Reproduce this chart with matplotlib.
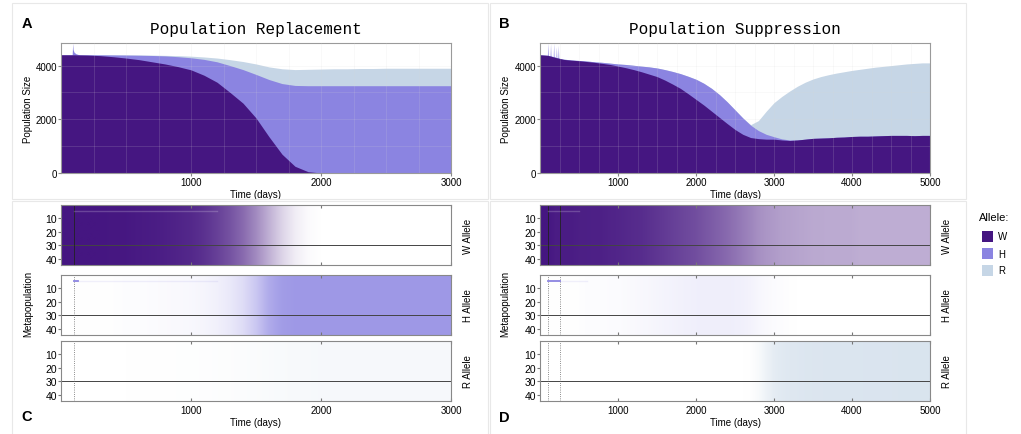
import numpy as np
import matplotlib
matplotlib.use("Agg")
import matplotlib.pyplot as plt
from matplotlib.colors import LinearSegmentedColormap
from matplotlib.patches import Rectangle

plt.rcParams['font.family'] = ['Liberation Sans', 'DejaVu Sans']

# colours of the three alleles
col_W = '#451681'
col_H = '#8b84e1'
col_R = '#c6d6e6'

# ---- panel A : population replacement (every 100 days, 0..3000)
days_A = np.arange(0, 3001, 100)
W_A = [4400, 4400, 4390, 4370, 4330, 4280, 4220, 4140, 4060, 3960, 3840,
       3640, 3380, 3000, 2600, 2050, 1350, 700, 250, 50, 0,
       0, 0, 0, 0, 0, 0, 0, 0, 0, 0]
WH_A = [4400, 4400, 4400, 4400, 4395, 4390, 4385, 4375, 4360, 4330, 4290,
        4230, 4140, 4000, 3850, 3670, 3480, 3330, 3260, 3250, 3250,
        3250, 3250, 3250, 3250, 3250, 3250, 3250, 3250, 3250, 3250]
tot_A = [4400, 4400, 4400, 4400, 4400, 4400, 4395, 4390, 4380, 4370, 4350,
         4320, 4280, 4220, 4150, 4060, 3950, 3880, 3850, 3860, 3870,
         3880, 3880, 3890, 3890, 3900, 3900, 3900, 3900, 3900, 3900]
spike_days_A = [86, 90, 93, 100, 115, 140]
spike_vals_A = [4400, 4840, 4600, 4500, 4440, 4400]

# ---- panel B : population suppression (every 100 days, 0..5000)
days_B = np.arange(0, 5001, 100)
W_B = [4400, 4380, 4300, 4230, 4200, 4180, 4150, 4120, 4080, 4040, 3980,
       3920, 3850, 3770, 3680, 3590, 3460, 3310, 3150, 2950, 2740,
       2530, 2300, 2070, 1840, 1620, 1440, 1320, 1280, 1260, 1260,
       1230, 1210, 1230, 1260, 1290, 1300, 1310, 1330, 1340, 1360,
       1370, 1370, 1380, 1390, 1400, 1400, 1400, 1390, 1400, 1400]
WH_B = [4400, 4380, 4300, 4240, 4210, 4190, 4170, 4140, 4120, 4090, 4060,
        4040, 4010, 3980, 3950, 3910, 3850, 3780, 3700, 3600, 3490,
        3340, 3150, 2920, 2650, 2350, 2050, 1780, 1580, 1440, 1350,
        1270, 1230, 1230, 1260, 1290, 1300, 1310, 1330, 1340, 1360,
        1370, 1370, 1380, 1390, 1400, 1400, 1400, 1390, 1400, 1400]
tot_B = [4400, 4380, 4300, 4240, 4210, 4190, 4170, 4140, 4120, 4090, 4060,
         4040, 4010, 3980, 3950, 3910, 3850, 3780, 3700, 3600, 3490,
         3340, 3150, 2920, 2650, 2350, 2050, 1800, 1950, 2300, 2620,
         2850, 3050, 3230, 3380, 3500, 3590, 3660, 3720, 3770, 3820,
         3860, 3900, 3940, 3970, 4000, 4030, 4060, 4080, 4100, 4100]
spike_days_B = [95, 100, 105, 130, 135, 140, 170, 175, 180, 205, 210, 215, 230, 235, 240]
spike_vals_B = [4380, 4840, 4380, 4360, 4820, 4360, 4330, 4840, 4330, 4300, 4700, 4300, 4290, 4760, 4290]

# ---- panel C : allele frequency per deme (every 100 days, 0..3000)
n_demes = 44
W_C = [1.0, 1.0, 1.0, 1.0, 0.99, 0.99, 0.98, 0.97, 0.96, 0.94, 0.92,
       0.88, 0.82, 0.74, 0.64, 0.5, 0.34, 0.19, 0.08, 0.02, 0.0,
       0, 0, 0, 0, 0, 0, 0, 0, 0, 0]
H_C = [0.0, 0.0, 0.01, 0.01, 0.01, 0.02, 0.02, 0.03, 0.04, 0.05, 0.06,
       0.08, 0.12, 0.18, 0.28, 0.45, 0.68, 0.8, 0.83, 0.83, 0.83,
       0.83, 0.83, 0.83, 0.83, 0.83, 0.83, 0.83, 0.83, 0.83, 0.83]
R_C = [0, 0, 0, 0, 0, 0, 0.01, 0.01, 0.01, 0.02, 0.02,
       0.03, 0.04, 0.05, 0.07, 0.08, 0.1, 0.12, 0.13, 0.14, 0.15,
       0.15, 0.15, 0.15, 0.15, 0.15, 0.15, 0.15, 0.15, 0.15, 0.15]

# ---- panel D : allele frequency per deme (every 100 days, 0..5000)
W_D = [1.0, 1.0, 0.97, 0.97, 0.97, 0.96, 0.96, 0.95, 0.95, 0.94, 0.93,
       0.92, 0.91, 0.9, 0.88, 0.86, 0.84, 0.82, 0.8, 0.78, 0.76,
       0.73, 0.7, 0.67, 0.64, 0.6, 0.56, 0.52, 0.48, 0.45, 0.43,
       0.41, 0.4, 0.39, 0.38, 0.37, 0.37, 0.36, 0.36, 0.36, 0.36,
       0.35, 0.35, 0.35, 0.35, 0.35, 0.35, 0.35, 0.35, 0.35, 0.35]
H_D = [0, 0, 0.01, 0.01, 0.01, 0.01, 0.02, 0.02, 0.02, 0.03, 0.03,
       0.04, 0.05, 0.06, 0.07, 0.08, 0.09, 0.1, 0.11, 0.12, 0.13,
       0.14, 0.14, 0.14, 0.14, 0.13, 0.12, 0.1, 0.07, 0.05, 0.03,
       0.02, 0.01, 0, 0, 0, 0, 0, 0, 0, 0,
       0, 0, 0, 0, 0, 0, 0, 0, 0, 0]
R_D = [0, 0, 0, 0, 0, 0, 0, 0, 0, 0, 0,
       0, 0, 0, 0, 0, 0, 0, 0, 0, 0,
       0, 0, 0, 0, 0, 0, 0.02, 0.12, 0.3, 0.45,
       0.52, 0.56, 0.58, 0.6, 0.61, 0.61, 0.62, 0.62, 0.63, 0.63,
       0.63, 0.64, 0.64, 0.64, 0.64, 0.65, 0.65, 0.65, 0.65, 0.65]

release_deme = 5
release_C = [100]
release_D = [100, 250]
release_bar_C = [100, 130]
release_bar_D = [100, 250]

fig = plt.figure(figsize=(10.21, 4.35), dpi=100)
W, H = 1021.0, 435.0


def fx(px):
    return px / W


def fy(py):
    return 1 - py / H


# background panels
for (x0, y0, x1, y1) in [(12, 4, 488, 200), (490, 4, 966, 200),
                         (12, 202, 488, 440), (490, 202, 966, 440)]:
    fig.add_artist(Rectangle((fx(x0), fy(y1)), fx(x1 - x0), (y1 - y0) / H,
                             fill=False, ec='#e8e8e8', lw=0.8))


def pop_axes(left, days, w, wh, tot, sd, sv, xmax, title):
    ax = fig.add_axes([fx(left), fy(174), fx(390), 130 / H])
    ax.fill_between(days, 0, tot, color=col_R, lw=0)
    ax.fill_between(days, 0, wh, color=col_H, lw=0)
    ax.fill_between(sd, 0, sv, color=col_H, lw=0)
    ax.fill_between(days, 0, w, color=col_W, lw=0)
    ax.set_xlim(0, xmax)
    ax.set_ylim(0, 4840)
    ax.set_xticks(np.arange(1000, xmax + 1, 1000))
    ax.set_yticks([0, 2000, 4000])
    ax.set_xticks(np.arange(250, xmax, 250), minor=True)
    ax.set_yticks([1000, 3000], minor=True)
    ax.grid(True, which='both', color='#d8d8d8', lw=0.5, alpha=0.22)
    ax.set_axisbelow(False)
    ax.tick_params(which='minor', length=0)
    ax.tick_params(which='major', length=2, labelsize=7, pad=1, color='#888888')
    for s in ax.spines.values():
        s.set_color('#9a9a9a')
        s.set_linewidth(0.8)
    ax.set_title(title, family=['Liberation Mono', 'DejaVu Sans Mono'],
                 fontsize=11.5, pad=7)
    ax.set_xlabel('Time (days)', fontsize=7, labelpad=1)
    return ax


axA = pop_axes(61, days_A, W_A, WH_A, tot_A, spike_days_A, spike_vals_A, 3000,
               'Population Replacement')
axB = pop_axes(540, days_B, W_B, WH_B, tot_B, spike_days_B, spike_vals_B, 5000,
               'Population Suppression')
fig.text(fx(28), fy(109), 'Population Size', rotation=90, ha='center', va='center', fontsize=7)
fig.text(fx(506), fy(109), 'Population Size', rotation=90, ha='center', va='center', fontsize=7)


def heat_axes(left, top, prof, col, xmax, bottom_labels):
    ax = fig.add_axes([fx(left), fy(top + 60), fx(390), 60 / H])
    cmap = LinearSegmentedColormap.from_list('a', ['#ffffff', col])
    grid = np.tile(np.array(prof, dtype=float), (n_demes, 1))
    ax.imshow(grid, cmap=cmap, vmin=0, vmax=1, aspect='auto',
              interpolation='bilinear',
              extent=[-50, xmax + 50, n_demes + 0.5, 0.5])
    ax.set_xlim(0, xmax)
    ax.set_ylim(n_demes + 0.5, 0.5)
    ax.axhline(30, color='#444444', lw=0.7)
    ax.set_xticks(np.arange(1000, xmax + 1, 1000))
    ax.set_yticks([10, 20, 30, 40])
    ax.tick_params(axis='x', direction='in', top=True, length=2, color='#777777',
                   labelsize=7, pad=3, labelbottom=bottom_labels)
    ax.tick_params(axis='y', length=2, labelsize=7.5, pad=1, color='#777777')
    for s in ax.spines.values():
        s.set_color('#888888')
        s.set_linewidth(0.8)
    return ax


heat_tops = [206, 276, 342]
names = ['W Allele', 'H Allele', 'R Allele']
cols = [col_W, col_H, col_R]
for left, profs, xmax, rel, bar, lab_x in [(61, [W_C, H_C, R_C], 3000, release_C, release_bar_C, 468),
                                           (540, [W_D, H_D, R_D], 5000, release_D, release_bar_D, 947)]:
    for i in range(3):
        ax = heat_axes(left, heat_tops[i], profs[i], cols[i], xmax, i == 2)
        for d in rel:
            ax.axvline(d, color='#222222' if i == 0 else '#666666',
                       lw=0.6, ls='-' if i == 0 else ':')
        if i == 0:
            ax.plot([bar[0], 1200 if xmax == 3000 else 500], [release_deme, release_deme],
                    color='white', lw=1.0, alpha=0.2)
        if i == 1:
            ax.plot(bar, [release_deme, release_deme], color=col_H, lw=1.3)
            ax.plot([bar[1], 1200 if xmax == 3000 else 600], [release_deme, release_deme],
                    color=col_H, lw=1.0, alpha=0.12)
        if i == 2:
            ax.set_xlabel('Time (days)', fontsize=7, labelpad=1)
        fig.text(fx(lab_x), fy(heat_tops[i] + 30), names[i], rotation=90,
                 ha='center', va='center', fontsize=7)

fig.text(fx(28), fy(304), 'Metapopulation', rotation=90, ha='center', va='center', fontsize=7)
fig.text(fx(505), fy(304), 'Metapopulation', rotation=90, ha='center', va='center', fontsize=7)

# panel letters
for lab, x, y in [('A', 27, 24), ('B', 504, 24), ('C', 27, 417), ('D', 504, 418)]:
    fig.text(fx(x), fy(y), lab, fontsize=10.5, fontweight='bold', ha='center', va='center')

# legend
fig.text(fx(979), fy(218), 'Allele:', fontsize=8, ha='left', va='center')
for lab, c, y in [('W', col_W, 232), ('H', col_H, 249), ('R', col_R, 266)]:
    fig.add_artist(Rectangle((fx(982), fy(y + 11)), fx(11), 11 / H, color=c, lw=0))
    fig.text(fx(998), fy(y + 5.5), lab, fontsize=7, ha='left', va='center')

fig.savefig('out.png', dpi=100)
